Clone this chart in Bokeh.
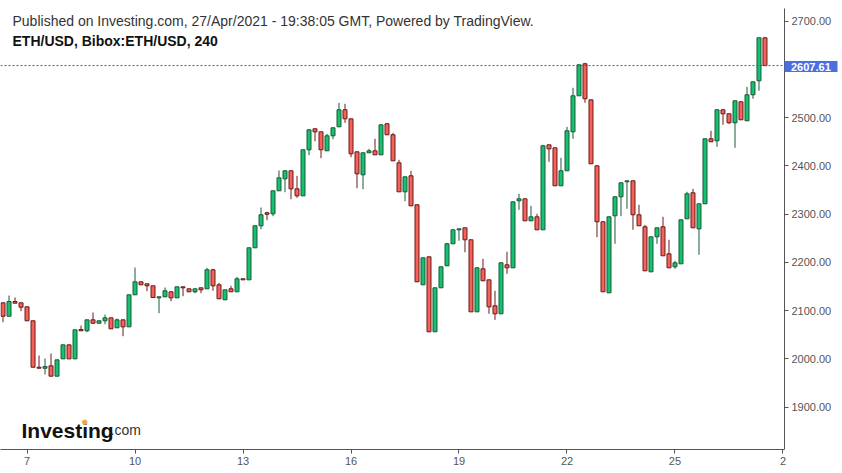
import numpy as np
import pandas as pd
from bokeh.plotting import figure
from bokeh.models import (ColumnDataSource, FixedTicker, Label, Range1d,
                          CustomJSTickFormatter, BoxAnnotation)
from bokeh.embed import file_html
from bokeh.resources import INLINE

# 4-hour candles, ETH/USD (Bibox), 6 Apr 2021 08:00 -> 27 Apr 2021 12:00
start = pd.Timestamp("2021-04-06 08:00")
opens = [2116.0, 2088.2, 2118.7, 2116.0, 2107.7, 2078.7, 1982.5, 1980.4, 1985.4, 1963.9,
         1999.9, 2028.9, 1999.9, 2060.6, 2058.0, 2080.7, 2073.7, 2078.7, 2084.9, 2064.2,
         2080.7, 2066.2, 2132.6, 2159.5, 2155.4, 2151.2, 2126.3, 2128.4, 2138.8, 2126.3,
         2149.1, 2145.0, 2138.8, 2147.1, 2145.0, 2184.4, 2153.3, 2122.2, 2145.0, 2138.8,
         2165.7, 2163.6, 2230.0, 2275.6, 2302.5, 2300.4, 2348.1, 2373.0, 2389.6, 2352.2,
         2337.7, 2433.1, 2476.6, 2470.4, 2431.0, 2462.1, 2480.7, 2516.0, 2497.3, 2428.9,
         2381.3, 2426.9, 2431.0, 2422.7, 2487.0, 2464.2, 2406.1, 2346.0, 2379.2, 2319.1,
         2153.3, 2211.3, 2055.9, 2147.1, 2192.7, 2238.3, 2267.3, 2271.4, 2246.6, 2097.3,
         2186.4, 2163.6, 2109.8, 2093.2, 2194.7, 2188.5, 2327.4, 2331.5, 2285.9, 2294.2,
         2267.3, 2443.4, 2437.2, 2358.5, 2389.6, 2470.4, 2545.0, 2611.3, 2536.7, 2399.9,
         2283.9, 2136.7, 2296.3, 2335.7, 2366.8, 2368.8, 2298.4, 2273.5, 2180.2, 2252.8,
         2273.5, 2217.5, 2190.6, 2196.8, 2290.1, 2344.0, 2269.3, 2321.2, 2455.9, 2451.7,
         2516.0, 2507.7, 2489.0, 2532.6, 2493.2, 2547.1, 2576.1, 2665.2]
highs = [2116.0, 2131.1, 2127.0, 2116.0, 2107.7, 2078.7, 2006.8, 2000.5, 2010.9, 1997.8,
         2028.9, 2028.9, 2060.0, 2068.9, 2080.7, 2095.9, 2078.7, 2091.7, 2084.9, 2083.4,
         2080.7, 2132.6, 2189.1, 2159.5, 2155.4, 2151.2, 2128.4, 2147.7, 2138.8, 2149.1,
         2149.1, 2145.0, 2145.0, 2147.1, 2188.5, 2186.4, 2157.4, 2142.9, 2151.2, 2169.9,
         2165.7, 2230.0, 2275.6, 2313.5, 2304.6, 2348.1, 2390.2, 2389.6, 2389.6, 2379.2,
         2433.1, 2474.5, 2476.6, 2470.4, 2466.2, 2478.7, 2530.5, 2528.4, 2497.3, 2428.9,
         2426.9, 2435.1, 2455.9, 2484.9, 2487.0, 2468.3, 2412.3, 2377.1, 2389.6, 2319.1,
         2209.2, 2211.3, 2147.1, 2190.6, 2240.3, 2267.3, 2269.3, 2271.4, 2246.6, 2188.5,
         2207.2, 2163.6, 2140.9, 2198.9, 2221.7, 2325.3, 2341.9, 2331.5, 2317.0, 2300.4,
         2443.4, 2443.4, 2437.2, 2416.5, 2480.7, 2561.6, 2609.2, 2613.4, 2536.7, 2399.9,
         2283.9, 2294.2, 2335.7, 2364.7, 2368.8, 2368.8, 2319.1, 2277.6, 2252.8, 2271.4,
         2294.2, 2246.6, 2203.0, 2288.0, 2346.0, 2352.2, 2321.2, 2455.9, 2472.5, 2516.0,
         2516.0, 2507.7, 2534.6, 2532.6, 2563.6, 2574.0, 2665.2, 2665.2]
lows = [2075.8, 2088.2, 2115.2, 2098.6, 2078.7, 1982.5, 1980.4, 1967.4, 1963.9, 1963.9,
        1999.9, 1999.9, 1999.9, 2058.0, 2055.1, 2073.7, 2073.7, 2071.6, 2062.1, 2064.2,
        2046.8, 2066.2, 2132.6, 2153.3, 2140.0, 2127.0, 2094.4, 2128.4, 2119.3, 2126.3,
        2129.7, 2138.8, 2135.9, 2135.9, 2145.0, 2140.9, 2124.3, 2122.2, 2138.8, 2138.8,
        2163.6, 2163.6, 2230.0, 2268.5, 2287.2, 2295.5, 2348.1, 2345.2, 2330.7, 2333.6,
        2337.7, 2421.9, 2450.9, 2415.7, 2431.0, 2455.0, 2480.7, 2489.0, 2417.7, 2353.5,
        2351.4, 2426.9, 2422.7, 2422.7, 2464.2, 2410.3, 2346.0, 2326.5, 2317.0, 2159.5,
        2153.3, 2055.9, 2055.9, 2147.1, 2192.7, 2238.3, 2244.5, 2220.8, 2097.3, 2097.3,
        2161.6, 2093.2, 2080.7, 2093.2, 2176.1, 2188.5, 2308.7, 2285.9, 2285.9, 2267.3,
        2267.3, 2408.2, 2358.5, 2358.5, 2389.6, 2455.9, 2545.0, 2530.5, 2404.1, 2251.9,
        2138.8, 2136.7, 2238.3, 2295.5, 2310.8, 2267.3, 2275.6, 2182.3, 2180.2, 2238.3,
        2213.4, 2188.5, 2186.4, 2196.8, 2290.1, 2271.4, 2215.5, 2321.2, 2449.7, 2439.3,
        2484.9, 2487.0, 2437.2, 2495.3, 2493.2, 2538.8, 2555.4, 2607.61]
closes = [2088.2, 2118.7, 2115.2, 2106.9, 2078.7, 1982.5, 1980.4, 1984.0, 1963.9, 1997.8,
          2028.9, 1999.9, 2060.0, 2058.0, 2080.7, 2073.7, 2078.7, 2084.9, 2062.1, 2080.7,
          2066.2, 2132.6, 2159.5, 2153.3, 2151.2, 2127.0, 2128.4, 2140.9, 2126.3, 2149.1,
          2147.1, 2138.8, 2145.0, 2142.9, 2184.4, 2151.2, 2124.3, 2142.9, 2138.8, 2165.7,
          2163.6, 2230.0, 2275.6, 2298.4, 2299.6, 2348.1, 2375.0, 2389.6, 2352.2, 2337.7,
          2433.1, 2474.5, 2470.4, 2433.1, 2462.1, 2478.7, 2516.0, 2497.3, 2424.8, 2383.3,
          2426.9, 2431.0, 2422.7, 2484.9, 2464.2, 2410.3, 2346.0, 2377.1, 2317.0, 2159.5,
          2209.2, 2055.9, 2147.1, 2190.6, 2238.3, 2267.3, 2269.3, 2246.6, 2097.3, 2188.5,
          2161.6, 2107.7, 2093.2, 2198.9, 2188.5, 2325.3, 2331.5, 2285.9, 2294.2, 2267.3,
          2441.4, 2435.1, 2358.5, 2389.6, 2472.5, 2545.0, 2609.2, 2538.8, 2404.1, 2283.9,
          2138.8, 2294.2, 2335.7, 2364.7, 2368.8, 2298.4, 2275.6, 2182.3, 2252.8, 2271.4,
          2213.4, 2188.5, 2198.9, 2288.0, 2341.9, 2271.4, 2321.2, 2455.9, 2449.7, 2516.0,
          2507.7, 2489.0, 2534.6, 2495.3, 2547.1, 2574.0, 2665.2, 2607.61]
last_price = 2607.61

tick_days = [7, 10, 13, 16, 19, 22, 25, 28]
tick_labels = ["7", "10", "13", "16", "19", "22", "25", "2"]
y_ticks = [1900, 2000, 2100, 2200, 2300, 2400, 2500, 2700]

n = len(opens)
step = pd.Timedelta("4h")
idx = np.arange(n)
o = np.array(opens); c = np.array(closes)
up = c >= o
GREEN, GREEN_EDGE = "#14c171", "#1c5a37"
RED, RED_EDGE = "#f4625a", "#6a1a1a"

src = ColumnDataSource(dict(
    x=idx, high=highs, low=lows,
    top=np.maximum(o, c), bottom=np.minimum(o, c),
    fill=[GREEN if u else RED for u in up],
    edge=[GREEN_EDGE if u else RED_EDGE for u in up],
))

# layout constants (candle slot = 6 px, frame spans the full width; price axis sits inside)
X0, X_AXIS, X1 = -0.42, 130.25, 139.92
Y0, Y_AXIS_TOP, Y1 = 1812.0, 2725.9, 2742.5

p = figure(width=842, height=473, output_backend="svg", toolbar_location=None,
           y_axis_location="right",
           x_range=Range1d(X0, X1), y_range=Range1d(Y0, Y1),
           min_border_left=0, min_border_right=0, min_border_top=0, min_border_bottom=24)
p.outline_line_color = None
p.xgrid.visible = False
p.ygrid.visible = False
p.background_fill_color = "white"
p.border_fill_color = "white"

p.segment(x0="x", y0="high", x1="x", y1="low", source=src, line_color="edge", line_width=1)
p.vbar(x="x", width=4/6, top="top", bottom="bottom", source=src,
       fill_color="fill", line_color="edge", line_width=1)

# last-price dotted line up to the price axis
p.segment(x0=[X0], y0=[last_price], x1=[X_AXIS], y1=[last_price],
          line_color="#2f5bd8", line_dash="2 2", line_width=1)

tick_pos = [(pd.Timestamp(2021, 4, d) - start) / step for d in tick_days]
p.xaxis.ticker = FixedTicker(ticks=tick_pos)
p.xaxis.major_label_overrides = {tp: lab for tp, lab in zip(tick_pos, tick_labels)}
p.xaxis.bounds = (X0, X_AXIS)
p.yaxis.ticker = FixedTicker(ticks=y_ticks)
p.yaxis.formatter = CustomJSTickFormatter(code="return tick.toFixed(2);")
p.yaxis.fixed_location = X_AXIS
p.yaxis.bounds = (Y0, Y_AXIS_TOP)

for ax in (p.xaxis[0], p.yaxis[0]):
    ax.axis_line_color = "#555555"
    ax.major_tick_line_color = "#555555"
    ax.major_tick_out = 4
    ax.major_tick_in = 0
    ax.minor_tick_line_color = None
    ax.major_label_text_color = "#555555"
    ax.major_label_text_font = "Liberation Sans"
    ax.major_label_text_font_size = "11px"
    ax.major_label_standoff = 3

# price tag
p.add_layout(BoxAnnotation(left=784, right=837, top=60.5, bottom=71.5,
                           left_units="canvas", right_units="canvas",
                           top_units="canvas", bottom_units="canvas",
                           fill_color="#4a6fe3", fill_alpha=1.0, line_color=None))
p.add_layout(Label(x=790.5, y=66, x_units="canvas", y_units="canvas",
                   text="%.2f" % last_price, text_color="white", text_font="Liberation Sans",
                   text_font_size="11px", text_font_style="bold", text_baseline="middle",
                   text_align="left"))

# header texts
p.add_layout(Label(x=12, y=449 - 20, x_units="screen", y_units="screen",
                   text="Published on Investing.com, 27/Apr/2021 - 19:38:05 GMT, Powered by TradingView.",
                   text_color="#333333", text_font="Liberation Sans", text_font_size="14px",
                   text_baseline="alphabetic"))
p.add_layout(Label(x=12, y=449 - 40, x_units="screen", y_units="screen",
                   text="ETH/USD, Bibox:ETH/USD, 240",
                   text_color="#111111", text_font="Liberation Sans", text_font_size="14px",
                   text_font_style="bold", text_baseline="alphabetic"))

# logo
p.add_layout(Label(x=21, y=449 - 429.5, x_units="screen", y_units="screen",
                   text="Investing", text_color="#111111", text_font="Liberation Sans",
                   text_font_size="21px", text_font_style="bold", text_baseline="alphabetic"))
p.add_layout(Label(x=110, y=449 - 429.5, x_units="screen", y_units="screen",
                   text=".com", text_color="#333333", text_font="Liberation Sans",
                   text_font_size="14px", text_baseline="alphabetic"))
p.add_layout(Label(x=84.2, y=449 - 421, x_units="screen", y_units="screen",
                   text="\u25cf", text_color="#f2a84a", text_font="DejaVu Sans",
                   text_font_size="7px", text_baseline="middle", text_align="center"))

open("out.html", "w").write(file_html(p, INLINE))
